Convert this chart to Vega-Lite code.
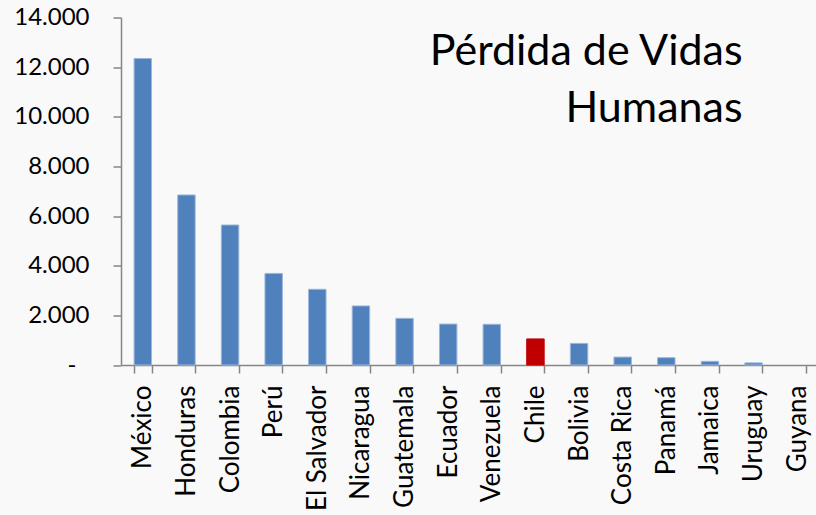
{
  "$schema": "https://vega.github.io/schema/vega-lite/v6.json",
  "autosize": {"type": "none"},
  "width": 695,
  "height": 347.5,
  "padding": {"left": 121, "top": 17.5, "right": 0, "bottom": 150},
  "background": "#F9F9F9",
  "config": {
    "view": {"stroke": null},
    "font": "Lato",
    "axis": {"labelFont": "Lato", "labelColor": "#000000", "grid": false}
  },
  "data": {
    "values": [
      {"pais": "México", "muertes": 12350},
      {"pais": "Honduras", "muertes": 6850},
      {"pais": "Colombia", "muertes": 5640},
      {"pais": "Perú", "muertes": 3690},
      {"pais": "El Salvador", "muertes": 3050},
      {"pais": "Nicaragua", "muertes": 2380},
      {"pais": "Guatemala", "muertes": 1880},
      {"pais": "Ecuador", "muertes": 1650},
      {"pais": "Venezuela", "muertes": 1640},
      {"pais": "Chile", "muertes": 1050},
      {"pais": "Bolivia", "muertes": 870},
      {"pais": "Costa Rica", "muertes": 320},
      {"pais": "Panamá", "muertes": 295},
      {"pais": "Jamaica", "muertes": 148},
      {"pais": "Uruguay", "muertes": 85},
      {"pais": "Guyana", "muertes": 0}
    ]
  },
  "layer": [
    {
      "mark": {"type": "bar", "strokeWidth": 1},
      "encoding": {
        "x": {
          "field": "pais",
          "type": "nominal",
          "sort": null,
          "scale": {"paddingInner": 0.6, "paddingOuter": 0.3, "range": [0, 698]},
          "axis": {
            "title": null,
            "labelAngle": -90,
            "labelFontSize": 26,
            "labelPadding": 12,
            "tickBand": "extent",
            "tickSize": 8,
            "tickColor": "#868686",
            "tickWidth": 1.5,
            "domainColor": "#868686",
            "domainWidth": 1.5
          }
        },
        "y": {
          "field": "muertes",
          "type": "quantitative",
          "scale": {"domain": [0, 14000], "nice": false},
          "axis": {
            "title": null,
            "values": [0, 2000, 4000, 6000, 8000, 10000, 12000, 14000],
            "labelExpr": "datum.value === 0 ? '-' : replace(format(datum.value, ','), ',', '.')",
            "labelFontSize": 24,
            "labelPadding": {"condition": {"test": "datum.value === 0", "value": 37}, "value": 24},
            "tickSize": 8,
            "tickColor": "#868686",
            "tickWidth": 1.5,
            "domainColor": "#868686",
            "domainWidth": 1.5
          }
        },
        "fill": {
          "condition": {"test": "datum.pais === 'Chile'", "value": "#C00000"},
          "value": "#4F81BD"
        },
        "stroke": {
          "condition": {"test": "datum.pais === 'Chile'", "value": "#C00000"},
          "value": "#9DB6DA"
        },
        "strokeOpacity": {
          "condition": {"test": "datum.muertes === 0", "value": 0},
          "value": 1
        }
      }
    },
    {
      "data": {"values": [{"texto": "titulo"}]},
      "mark": {
        "type": "text",
        "text": ["Pérdida de Vidas", "Humanas"],
        "align": "right",
        "baseline": "alphabetic",
        "font": "Lato",
        "fontSize": 43,
        "lineHeight": 56.7,
        "color": "#000000",
        "dx": -11
      },
      "encoding": {
        "x": {"datum": "Uruguay", "type": "nominal"},
        "y": {"datum": 12090, "type": "quantitative"}
      }
    }
  ]
}
